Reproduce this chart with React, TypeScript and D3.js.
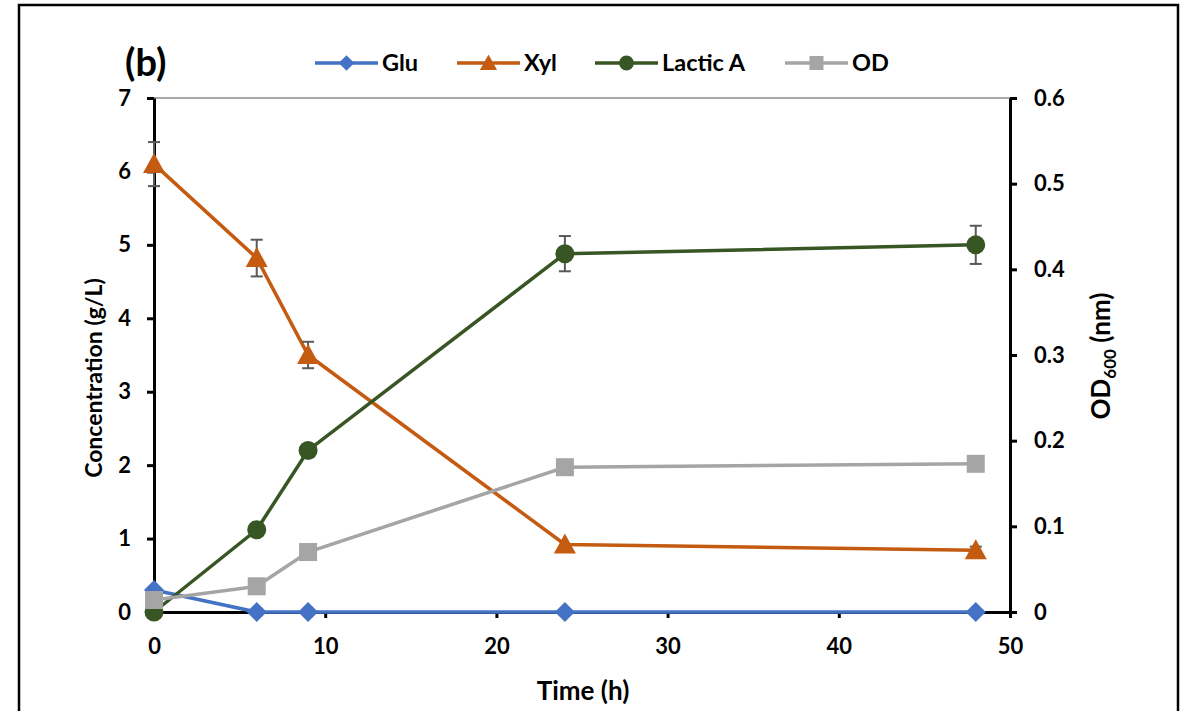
import React, { useEffect, useRef } from 'react';
import * as d3 from 'd3';

const times = [0, 6, 9, 24, 48];
const glu = [0.3, 0, 0, 0, 0];
const xyl = [6.1, 4.82, 3.5, 0.92, 0.84];
const xylErr = [0.3, 0.25, 0.18, 0, 0.05];
const lactic = [0, 1.12, 2.2, 4.88, 5.0];
const lacticErr = [0, 0, 0, 0.24, 0.26];
const od = [0.014, 0.03, 0.07, 0.169, 0.173];

const leftTicks = [0, 1, 2, 3, 4, 5, 6, 7];
const rightTicks = [0, 0.1, 0.2, 0.3, 0.4, 0.5, 0.6];
const timeTicks = [0, 10, 20, 30, 40, 50];

const FONT = 'Lato, "Open Sans", sans-serif';

const App = () => {
  const svgRef = useRef<SVGSVGElement>(null);

  useEffect(() => {
    const W = 1189;
    const H = 711;
    const margin = { top: 98, right: 179, bottom: 99, left: 154 };
    const width = W - margin.left - margin.right;
    const height = H - margin.top - margin.bottom;

    const svg = d3.select(svgRef.current).attr('width', W).attr('height', H);
    svg.selectAll('*').remove();

    svg
      .append('rect')
      .attr('x', 19)
      .attr('y', 5)
      .attr('width', 1159)
      .attr('height', 720)
      .attr('fill', 'white')
      .attr('stroke', 'black')
      .attr('stroke-width', 2.5);

    const g = svg.append('g').attr('transform', `translate(${margin.left},${margin.top})`);

    const x = d3.scaleLinear().domain([0, 50]).range([0, width]);
    const y = d3.scaleLinear().domain([0, 7]).range([height, 0]);
    const y2 = d3.scaleLinear().domain([0, 0.6]).range([height, 0]);

    // top frame line
    g.append('line')
      .attr('x1', 0)
      .attr('x2', width)
      .attr('y1', 0)
      .attr('y2', 0)
      .attr('stroke', '#555')
      .attr('stroke-width', 1);

    const styleAxis = (sel: any) => {
      sel.select('.domain').attr('stroke', 'black').attr('stroke-width', 3);
      sel.selectAll('.tick line').attr('stroke', 'black').attr('stroke-width', 3);
      sel
        .selectAll('.tick text')
        .attr('font-family', FONT)
        .attr('font-weight', 'bold')
        .attr('font-size', 22)
        .attr('fill', 'black');
    };

    g.append('g')
      .attr('transform', `translate(0,${height})`)
      .call(d3.axisBottom(x).tickValues(timeTicks).tickSize(6).tickSizeOuter(0).tickPadding(20))
      .call(styleAxis);

    g.append('g')
      .call(
        d3
          .axisLeft(y)
          .tickValues(leftTicks)
          .tickFormat(d3.format('d'))
          .tickSize(7)
          .tickSizeOuter(0)
          .tickPadding(16)
      )
      .call(styleAxis);

    g.append('g')
      .attr('transform', `translate(${width},0)`)
      .call(
        d3
          .axisRight(y2)
          .tickValues(rightTicks)
          .tickFormat((d: any) => (d === 0 ? '0' : d3.format('.1f')(d)))
          .tickSize(7)
          .tickSizeOuter(0)
          .tickPadding(17)
      )
      .call(styleAxis);

    // titles
    svg
      .append('text')
      .attr('x', 583)
      .attr('y', 700)
      .attr('text-anchor', 'middle')
      .attr('font-family', FONT)
      .attr('font-weight', 'bold')
      .attr('font-size', 26)
      .text('Time (h)');

    svg
      .append('text')
      .attr('transform', 'translate(102,378) rotate(-90)')
      .attr('text-anchor', 'middle')
      .attr('font-family', FONT)
      .attr('font-weight', 'bold')
      .attr('font-size', 23)
      .text('Concentration (g/L)');

    const rt = svg
      .append('text')
      .attr('transform', 'translate(1110,356) rotate(-90)')
      .attr('text-anchor', 'middle')
      .attr('font-family', FONT)
      .attr('font-weight', 'bold')
      .attr('font-size', 26);
    rt.append('tspan').text('OD');
    rt.append('tspan').attr('font-size', 17).attr('dy', 6).text('600');
    rt.append('tspan').attr('dy', -6).text(' (nm)');

    svg
      .append('text')
      .attr('x', 125)
      .attr('y', 76)
      .attr('font-family', FONT)
      .attr('font-weight', 'bold')
      .attr('font-size', 38)
      .text('(b)');

    const series = [
      { name: 'Glu', values: glu, err: null as number[] | null, scale: y, color: '#4472C4', marker: 'diamond' },
      { name: 'Xyl', values: xyl, err: xylErr, scale: y, color: '#C55A11', marker: 'triangle' },
      { name: 'Lactic A', values: lactic, err: lacticErr, scale: y, color: '#375623', marker: 'circle' },
      { name: 'OD', values: od, err: null as number[] | null, scale: y2, color: '#A5A5A5', marker: 'square' },
    ];

    const drawMarker = (sel: any, kind: string, color: string) => {
      if (kind === 'diamond') {
        sel.append('path').attr('d', 'M0,-10L10,0L0,10L-10,0Z').attr('fill', color);
      } else if (kind === 'triangle') {
        sel.append('path').attr('d', 'M0,-11L11,9L-11,9Z').attr('fill', color);
      } else if (kind === 'circle') {
        sel.append('circle').attr('r', 9.5).attr('fill', color);
      } else {
        sel.append('rect').attr('x', -9).attr('y', -9).attr('width', 18).attr('height', 18).attr('fill', color);
      }
    };

    series.forEach((s) => {
      const pts = times.map((t, i) => ({ t, v: s.values[i], e: s.err ? s.err[i] : 0 }));
      const line = d3
        .line<any>()
        .x((d) => x(d.t))
        .y((d) => s.scale(d.v));
      g.append('path')
        .datum(pts)
        .attr('d', line)
        .attr('fill', 'none')
        .attr('stroke', s.color)
        .attr('stroke-width', 3.5);

      // error bars
      pts
        .filter((d) => d.e > 0)
        .forEach((d) => {
          const eg = g.append('g').attr('stroke', '#595959').attr('stroke-width', 2);
          const cx = x(d.t);
          const top = s.scale(d.v + d.e);
          const bot = s.scale(d.v - d.e);
          eg.append('line').attr('x1', cx).attr('x2', cx).attr('y1', top).attr('y2', bot);
          eg.append('line').attr('x1', cx - 6).attr('x2', cx + 6).attr('y1', top).attr('y2', top);
          eg.append('line').attr('x1', cx - 6).attr('x2', cx + 6).attr('y1', bot).attr('y2', bot);
        });

      pts.forEach((d) => {
        const mg = g.append('g').attr('transform', `translate(${x(d.t)},${s.scale(d.v)})`);
        drawMarker(mg, s.marker, s.color);
      });
    });

    // legend
    const legendX = [315, 457, 595, 785];
    series.forEach((s, i) => {
      const lg = svg.append('g').attr('transform', `translate(${legendX[i]},63)`);
      lg.append('line').attr('x1', 0).attr('x2', 63).attr('stroke', s.color).attr('stroke-width', 3.5);
      drawMarker(
        lg.append('g').attr('transform', 'translate(31.5,0) scale(0.78)'),
        s.marker,
        s.color
      );
      lg.append('text')
        .attr('x', 67)
        .attr('y', 8)
        .attr('font-family', FONT)
        .attr('font-weight', 'bold')
        .attr('font-size', 23.5)
        .text(s.name);
    });
  }, []);

  return (
    <div style={{ position: 'absolute', left: 0, top: 0 }}>
      <svg ref={svgRef}></svg>
    </div>
  );
};

export default App;
